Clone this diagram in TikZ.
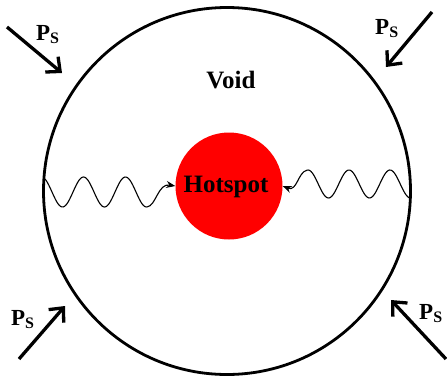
\documentclass[tikz,border=0pt]{standalone}
\usepackage{fontspec}
\setmainfont{Liberation Serif}
\usetikzlibrary{arrows.meta}
\tikzset{
  lbl/.style={font=\fontsize{25}{27}\selectfont\bfseries, inner sep=0pt},
  pslbl/.style={font=\fontsize{23}{25}\selectfont\bfseries, inner sep=0pt},
  psarrow/.style={line width=3.3pt, -{Straight Barb[length=11pt,width=20pt,line width=3.3pt]}},
  wave/.style={line width=1.1pt, -{Stealth[length=9pt,width=7pt]}},
}
\newcommand{\Ps}{P\textsubscript{\fontsize{16}{17}\selectfont S}}
\begin{document}
\begin{tikzpicture}[x=1pt,y=-1pt]
\useasboundingbox (0,0) rectangle (447,378);
% void circle
\node[circle, draw, line width=2.8pt, minimum size=367pt, inner sep=0pt] (void) at (227,191) {};
\node[lbl] (voidlbl) at (231,80) {Void};
% hotspot
\node[circle, fill=red, minimum size=107pt, inner sep=0pt] (hot) at (229,186) {};
\node[lbl] (hotlbl) at (226,187) {Hotspot};
% wavy lines
\draw[wave] plot[domain=45:147, samples=80, smooth] (\x, {192+15*sin((\x-52)*8.5714)})
  .. controls (156,206) and (158,183) .. (hot.west);
\draw[wave] plot[domain=409:307, samples=80, smooth] (\x, {184-14*cos((\x-308)*8.7805)})
  .. controls (298,172) and (297,192) .. (hot.east);
% pressure arrows
\coordinate (a1s) at (7,27);   \coordinate (a1e) at (62,73);
\coordinate (a2s) at (432,12); \coordinate (a2e) at (386,67);
\coordinate (a3s) at (19,359); \coordinate (a3e) at (65,306);
\coordinate (a4s) at (446,359);\coordinate (a4e) at (391,300);
\draw[psarrow] (a1s) -- (a1e);
\draw[psarrow] (a2s) -- (a2e);
\draw[psarrow] (a3s) -- (a3e);
\draw[psarrow] (a4s) -- (a4e);
\node[pslbl, anchor=base west] (p1) at (36,40) {\Ps};
\node[pslbl, anchor=base west] (p2) at (375,34) {\Ps};
\node[pslbl, anchor=base west] (p3) at (11,325) {\Ps};
\node[pslbl, anchor=base west] (p4) at (419,319) {\Ps};
\end{tikzpicture}
\end{document}
